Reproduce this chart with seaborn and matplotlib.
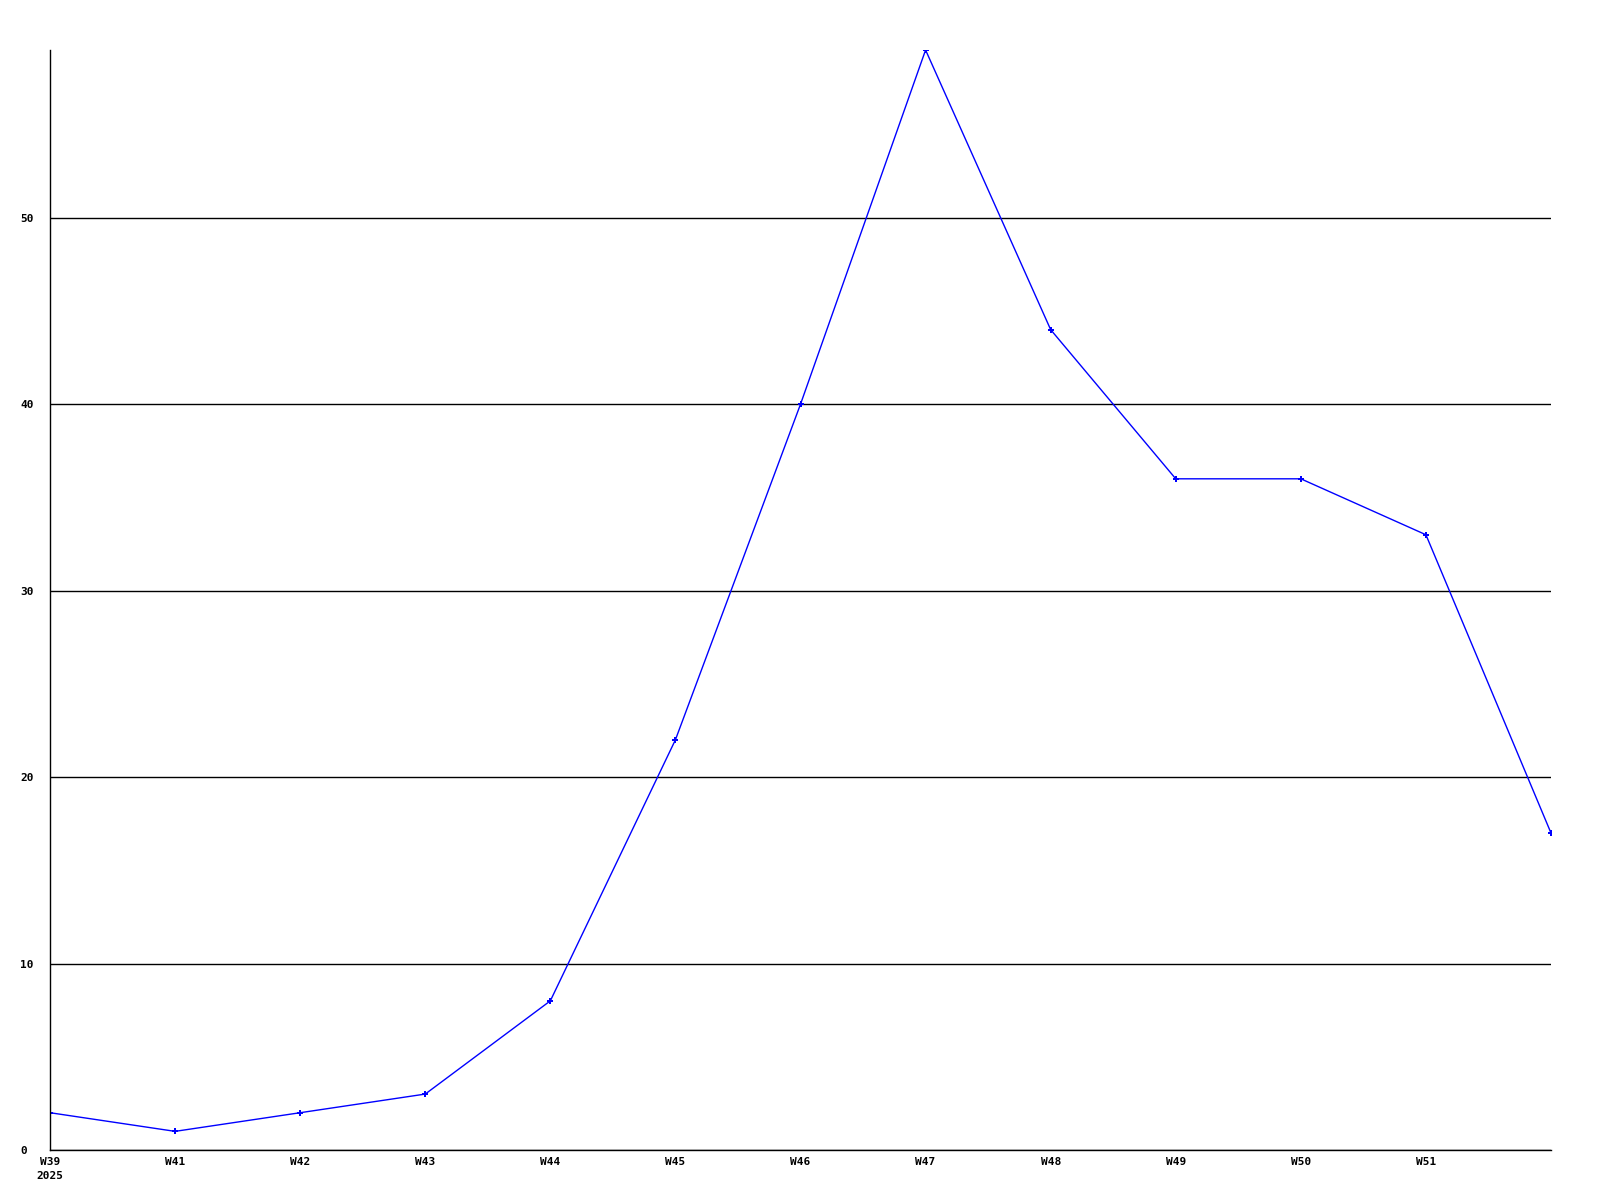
import matplotlib
matplotlib.use("Agg")
import matplotlib.pyplot as plt
import seaborn as sns
import pandas as pd

positions = list(range(13))
values = [2, 1, 2, 3, 8, 22, 40, 59, 44, 36, 36, 33, 17]
tick_labels = ["W39\n2025", "W41", "W42", "W43", "W44", "W45", "W46",
               "W47", "W48", "W49", "W50", "W51"]
y_ticks = [0, 10, 20, 30, 40, 50]

df = pd.DataFrame({"pos": positions, "value": values})

sns.set_style("white")
plt.rcParams["font.family"] = ["DejaVu Sans Mono"]
plt.rcParams["text.color"] = "black"
plt.rcParams["xtick.color"] = "black"
plt.rcParams["ytick.color"] = "black"

fig = plt.figure(figsize=(16, 12), dpi=100)
ax = fig.add_axes([50 / 1600, 1 - 1150 / 1200, 1501 / 1600, 1100 / 1200])

sns.lineplot(data=df, x="pos", y="value", ax=ax, color="#0000ff",
             linewidth=1, marker="P", markersize=4, markeredgewidth=0)

ax.set_xlim(0, 12)
ax.set_ylim(0, 59)
ax.set_yticks(y_ticks)
ax.set_yticklabels([str(v) for v in y_ticks], fontsize=8, fontweight="bold",
                   ha="left")
ax.set_xticks(list(range(len(tick_labels))))
ax.set_xticklabels(tick_labels, fontsize=8, fontweight="bold",
                   linespacing=1.5, va="top")
ax.tick_params(axis="both", length=0)
ax.tick_params(axis="y", pad=21.6)
ax.tick_params(axis="x", pad=5)
ax.set_xlabel("")
ax.set_ylabel("")

ax.yaxis.grid(True, color="black", linewidth=1)
ax.xaxis.grid(False)
ax.set_axisbelow(True)
for side in ["top", "right"]:
    ax.spines[side].set_visible(False)
for side in ["left", "bottom"]:
    ax.spines[side].set_color("black")
    ax.spines[side].set_linewidth(1)

fig.savefig("out.png", dpi=100, facecolor="white")
